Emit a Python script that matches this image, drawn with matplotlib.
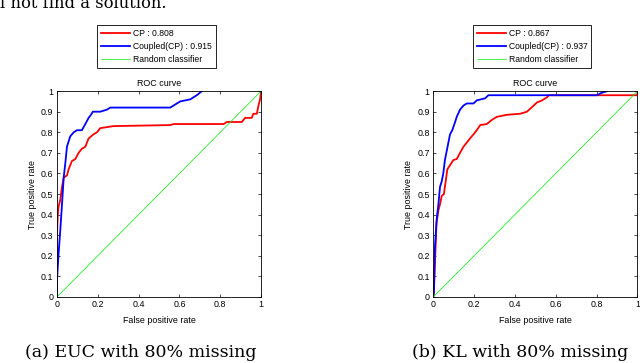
import matplotlib
matplotlib.use('Agg')
import numpy as np
import matplotlib.pyplot as plt

plt.rcParams['font.family'] = ['Liberation Sans', 'DejaVu Sans']

# (a) EUC with 80% missing
euc_cp_fpr = [0, 0, 0.004, 0.008, 0.016, 0.024, 0.033, 0.049, 0.057, 0.073, 0.09, 0.106,
              0.122, 0.139, 0.155, 0.179, 0.196, 0.212, 0.277, 0.555, 0.571, 0.816,
              0.832, 0.905, 0.922, 0.954, 0.962, 0.979, 0.987, 0.995, 1.0]
euc_cp_tpr = [0, 0.30, 0.40, 0.44, 0.47, 0.53, 0.58, 0.59, 0.62, 0.66, 0.67, 0.70,
              0.72, 0.73, 0.77, 0.79, 0.80, 0.82, 0.83, 0.835, 0.84, 0.84,
              0.85, 0.85, 0.87, 0.87, 0.89, 0.89, 0.93, 0.96, 1.0]
euc_cpl_fpr = [0, 0, 0.008, 0.016, 0.024, 0.033, 0.041, 0.049, 0.065, 0.082, 0.098,
               0.122, 0.139, 0.155, 0.163, 0.176, 0.212, 0.245, 0.261, 0.555, 0.571,
               0.604, 0.653, 0.685, 0.71]
euc_cpl_tpr = [0, 0.08, 0.21, 0.32, 0.44, 0.58, 0.65, 0.73, 0.78, 0.80, 0.81,
               0.81, 0.84, 0.87, 0.88, 0.90, 0.90, 0.91, 0.92, 0.92, 0.93,
               0.95, 0.96, 0.98, 1.0]

# (b) KL with 80% missing
kl_cp_fpr = [0, 0.003, 0.008, 0.016, 0.025, 0.033, 0.041, 0.052, 0.062, 0.069, 0.082,
             0.098, 0.115, 0.131, 0.148, 0.164, 0.18, 0.197, 0.213, 0.23, 0.262,
             0.287, 0.311, 0.361, 0.426, 0.459, 0.475, 0.492, 0.508, 0.533, 0.557,
             0.566, 1.0, 1.0]
kl_cp_tpr = [0, 0.02, 0.16, 0.36, 0.42, 0.45, 0.49, 0.50, 0.57, 0.62, 0.64,
             0.665, 0.67, 0.70, 0.73, 0.75, 0.77, 0.79, 0.81, 0.835, 0.84,
             0.86, 0.875, 0.885, 0.89, 0.90, 0.915, 0.93, 0.945, 0.955, 0.97,
             0.98, 0.98, 1.0]
kl_cpl_fpr = [0, 0.003, 0.008, 0.016, 0.025, 0.033, 0.041, 0.049, 0.057, 0.066, 0.074,
              0.082, 0.093, 0.107, 0.115, 0.131, 0.148, 0.164, 0.197, 0.213, 0.254,
              0.27, 0.803, 0.82, 0.852]
kl_cpl_tpr = [0, 0.03, 0.24, 0.37, 0.45, 0.535, 0.56, 0.60, 0.665, 0.71, 0.75,
              0.79, 0.81, 0.85, 0.875, 0.91, 0.93, 0.94, 0.94, 0.955, 0.965,
              0.98, 0.98, 0.99, 1.0]

panels = [
    dict(cp=(euc_cp_fpr, euc_cp_tpr), cpl=(euc_cpl_fpr, euc_cpl_tpr),
         auc_cp='0.808', auc_cpl='0.915', caption='(a) EUC with 80% missing',
         ax=[0.089, 0.182, 0.319, 0.567], leg=(0.152, 0.813), cap_x=0.220),
    dict(cp=(kl_cp_fpr, kl_cp_tpr), cpl=(kl_cpl_fpr, kl_cpl_tpr),
         auc_cp='0.867', auc_cpl='0.937', caption='(b) KL with 80% missing',
         ax=[0.677, 0.182, 0.319, 0.567], leg=(0.739, 0.813), cap_x=0.812),
]

fig = plt.figure(figsize=(6.4, 3.63), dpi=100)
serif = ['DejaVu Serif', 'Liberation Serif']

for p in panels:
    ax = fig.add_axes(p['ax'])
    h1, = ax.plot(*p['cp'], color='#ff0000', lw=1.3)
    h2, = ax.plot(*p['cpl'], color='#0000ff', lw=1.3)
    h3, = ax.plot([0, 1], [0, 1], color='#00ee00', lw=0.5)
    ax.set_xlim(0, 1)
    ax.set_ylim(0, 1)
    ax.set_xticks(np.arange(0, 1.01, 0.2))
    ax.set_yticks(np.arange(0, 1.01, 0.1))
    ax.set_xticklabels(['0', '0.2', '0.4', '0.6', '0.8', '1'])
    ax.set_yticklabels(['0', '0.1', '0.2', '0.3', '0.4', '0.5', '0.6', '0.7', '0.8', '0.9', '1'])
    ax.tick_params(direction='in', length=2.5, width=0.5, labelsize=6.4, pad=2.5,
                   top=True, right=True)
    for s in ax.spines.values():
        s.set_linewidth(0.6)
    ax.set_title('ROC curve', fontsize=6.4, pad=4)
    ax.set_xlabel('False positive rate', fontsize=6.4, labelpad=4.5)
    ax.set_ylabel('True positive rate', fontsize=6.4, labelpad=3)
    leg = fig.legend([h1, h2, h3],
                     ['CP : ' + p['auc_cp'], 'Coupled(CP) : ' + p['auc_cpl'], 'Random classifier'],
                     loc='lower left', bbox_to_anchor=p['leg'], borderaxespad=0,
                     fontsize=6.2, handlelength=3.4, handletextpad=0.3, labelspacing=0.45,
                     borderpad=0.45, fancybox=False, framealpha=1, edgecolor='black')
    leg.get_frame().set_linewidth(0.6)
    fig.text(p['cap_x'], 0.017, p['caption'], ha='center', va='baseline',
             fontsize=12.5, family=serif)

fig.text(0.0, 1 - 8 / 363, 'l not find a solution.', ha='left', va='baseline',
         fontsize=11.8, family=serif)

fig.savefig('out.png', dpi=100)
